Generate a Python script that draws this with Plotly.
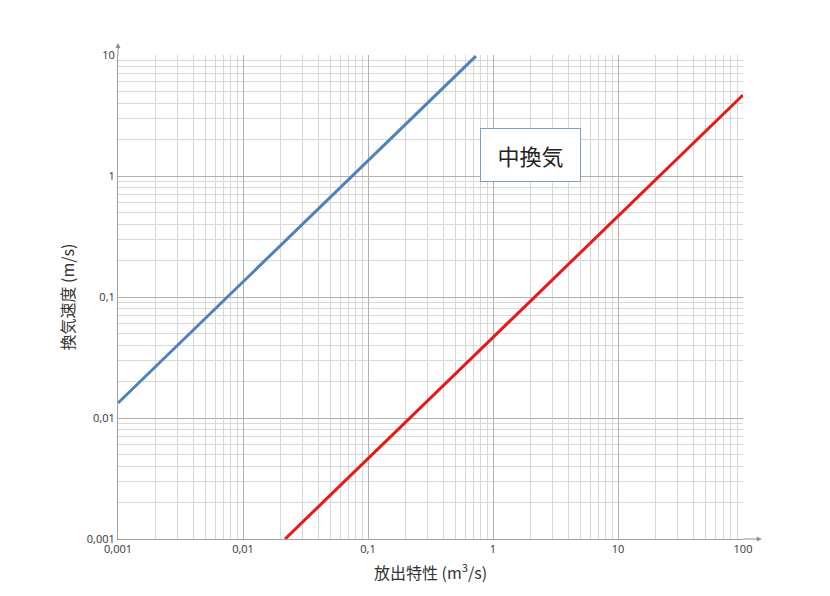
import plotly.graph_objects as go

high_x = [0.001, 0.73]
high_y = [0.0133, 9.8]
low_x = [0.0217, 100]
low_y = [0.001, 4.67]
x_ticks = [0.001, 0.01, 0.1, 1, 10, 100]
x_labels = ["0,001", "0,01", "0,1", "1", "10", "100"]
y_ticks = [0.001, 0.01, 0.1, 1, 10]
y_labels = ["0,001", "0,01", "0,1", "1", "10"]
boxes = [("高換気", 0.008, 1.7), ("中換気", 0.30, 0.174), ("低換気", 11, 0.0177)]

fig = go.Figure()
fig.add_trace(go.Scatter(x=high_x, y=high_y, mode="lines", line=dict(color="#4f81bd", width=3)))
fig.add_trace(go.Scatter(x=low_x, y=low_y, mode="lines", line=dict(color="#e81818", width=3)))

ax_common = dict(type="log", showgrid=True, gridcolor="#b0b0b0", gridwidth=1,
                 minor=dict(showgrid=True, gridcolor="#d8d8d8", dtick="D1", ticks=""),
                 showline=True, linecolor="#a0a0a0", linewidth=1, zeroline=False,
                 tickfont=dict(size=11, color="#333", family="Open Sans"),
                 ticks="", mirror=False)
fig.update_xaxes(**ax_common, range=[-3, 2], tickvals=x_ticks, ticktext=x_labels,
                 title=dict(text="放出特性 (m<sup>3</sup>/s)", font=dict(size=16, color="#333", family="Noto Sans CJK JP"), standoff=12))
fig.update_yaxes(**ax_common, range=[-3, 1], tickvals=y_ticks, ticktext=y_labels,
                 title=dict(text="換気速度 (m/s)", font=dict(size=16, color="#333", family="Noto Sans CJK JP"), standoff=8))

for t, x, y in boxes:
    fig.add_annotation(x=x, y=y, xref="x", yref="y", text=t, showarrow=False,
                       font=dict(size=22, color="#222", family="Noto Sans CJK JP"),
                       bordercolor="#7f9fc0", borderwidth=1, bgcolor="white",
                       width=95, height=48, borderpad=2)

# axis arrows
fig.add_annotation(x=1.03, y=0, xref="paper", yref="paper", ax=-20, ay=0,
                   showarrow=True, arrowhead=2, arrowsize=1, arrowwidth=1, arrowcolor="#909090", text="")
fig.add_annotation(x=0, y=1.025, xref="paper", yref="paper", ax=0, ay=14,
                   showarrow=True, arrowhead=2, arrowsize=1, arrowwidth=1, arrowcolor="#909090", text="")

fig.update_layout(width=830, height=596, margin=dict(l=110, r=95, t=47, b=65),
                  plot_bgcolor="white", paper_bgcolor="white", showlegend=False)
fig.write_html("out.html")
